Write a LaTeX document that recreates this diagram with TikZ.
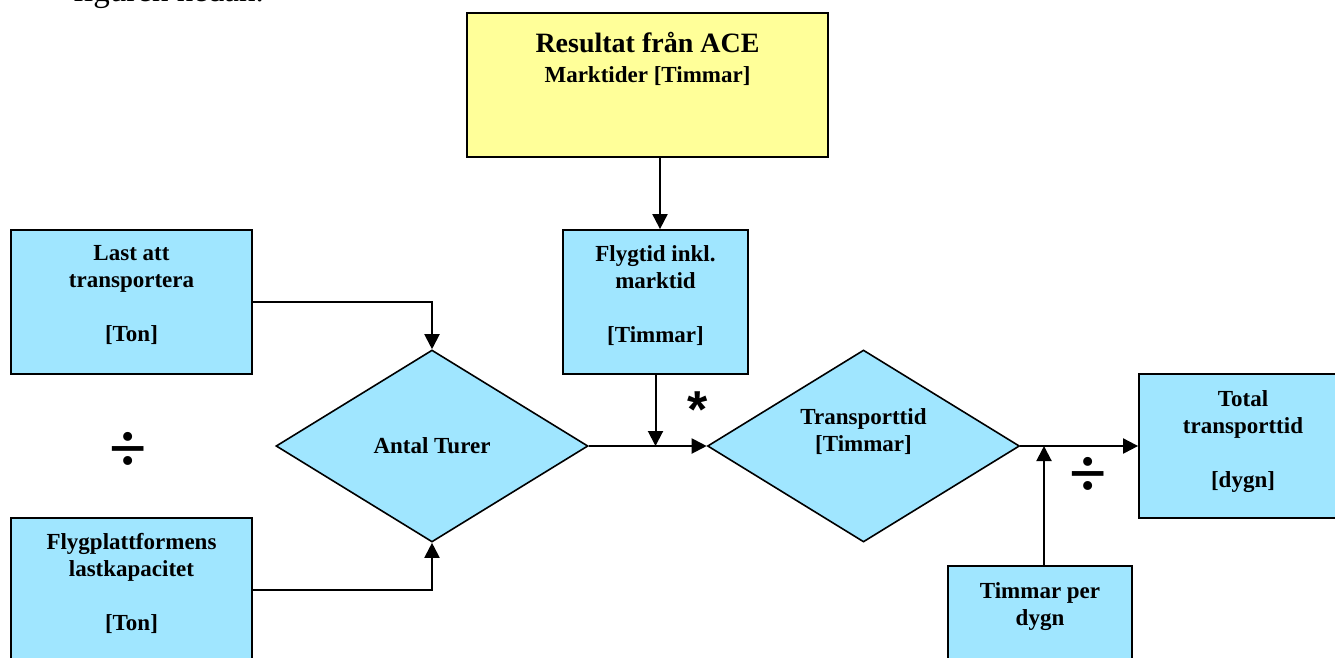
\documentclass[tikz,border=0pt]{standalone}
\usepackage{fontspec}
\setmainfont{Liberation Serif}
\newfontfamily\symfont{Liberation Sans}
\usetikzlibrary{shapes.geometric,arrows.meta}
\definecolor{boxblue}{RGB}{160,230,255}
\definecolor{boxyellow}{RGB}{255,255,153}
\begin{document}
\begin{tikzpicture}[x=1pt,y=-1pt,
  cbox/.style={draw=black,line width=1.8pt,fill=boxblue,inner sep=0pt,rectangle},
  ybox/.style={draw=black,line width=1.8pt,fill=boxyellow,inner sep=0pt,rectangle},
  dbox/.style={draw=black,line width=1.6pt,fill=boxblue,inner sep=0pt,diamond,
    minimum width=312pt,minimum height=192pt},
  txt/.style={font=\bfseries\fontsize{23}{27}\selectfont,align=center,inner sep=0pt},
  conn/.style={line width=2pt,-{Triangle[length=15pt,width=15pt]}},
  opsym/.style={inner sep=0pt,font=\bfseries\fontsize{68}{68}\selectfont}
]
\useasboundingbox (0,0) rectangle (1335,657);

% running text above the chart, mostly outside the page
\node[anchor=base west,inner sep=0pt,font=\fontsize{33}{33}\selectfont] (lead) at (73,1.5) {figuren nedan.};

% input and result boxes
\node[ybox,minimum width=361pt,minimum height=144pt] (ace) at (647.5,85) {};
\node[cbox,minimum width=241pt,minimum height=144pt] (last) at (131.5,302) {};
\node[cbox,minimum width=241pt,minimum height=144pt] (kap) at (131.5,590) {};
\node[cbox,minimum width=185pt,minimum height=144pt] (flyg) at (655.5,302) {};
\node[cbox,minimum width=184pt,minimum height=144pt] (tpd) at (1040,638) {};
\node[cbox,minimum width=208pt,minimum height=144pt] (total) at (1243,446) {};

% computation diamonds
\node[dbox] (antal) at (432,446) {};
\node[dbox] (transp) at (863.5,446) {};

% labels
\node[anchor=base,inner sep=0pt,font=\bfseries\fontsize{28}{30}\selectfont] (aceT) at (647.5,52) {Resultat från ACE};
\node[txt,anchor=base] (aceS) at (647.5,82) {Marktider [Timmar]};
\node[txt,anchor=north] (lastT) at ([yshift=-16pt]last.north) {Last att\\transportera\\[27pt]{[Ton]}};
\node[txt,anchor=north] (kapT) at ([yshift=-16pt]kap.north) {Flygplattformens\\lastkapacitet\\[27pt]{[Ton]}};
\node[txt,anchor=north] (flygT) at ([yshift=-16pt]flyg.north) {Flygtid inkl.\\marktid\\[27pt]{[Timmar]}};
\node[txt,anchor=north] (totalT) at ([yshift=-17pt]total.north) {Total\\transporttid\\[27pt]{[dygn]}};
\node[txt,anchor=north] (tpdT) at ([yshift=-17pt]tpd.north) {Timmar per\\dygn};
\node[txt,anchor=north] (antalT) at ([yshift=9pt]antal.center) {Antal Turer};
\node[txt,anchor=north] (transpT) at ([yshift=38pt]transp.center) {Transporttid\\{[Timmar]}};

% operator signs
\node[opsym] (div1) at (128,452) {÷};
\node[opsym] (div2) at (1088,477) {÷};
\node[inner sep=0pt,font=\symfont\bfseries\fontsize{52}{52}\selectfont] (mul) at (698,410) {*};

% connectors
\coordinate (acex) at (660,0);
\coordinate (tpdx) at (1044,0);
\draw[conn] (ace.south -| acex) -- (flyg.north -| acex);
\draw[conn] (last.east) -| (antal.north);
\draw[conn] (kap.east) -| (antal.south);
\draw[conn] (antal.east) -- (transp.west);
\draw[conn] (flyg.south) -- (flyg.south |- antal.east);
\draw[conn] (transp.east) -- (total.west);
\draw[conn] (tpd.north -| tpdx) -- (transp.east -| tpdx);
\end{tikzpicture}
\end{document}
